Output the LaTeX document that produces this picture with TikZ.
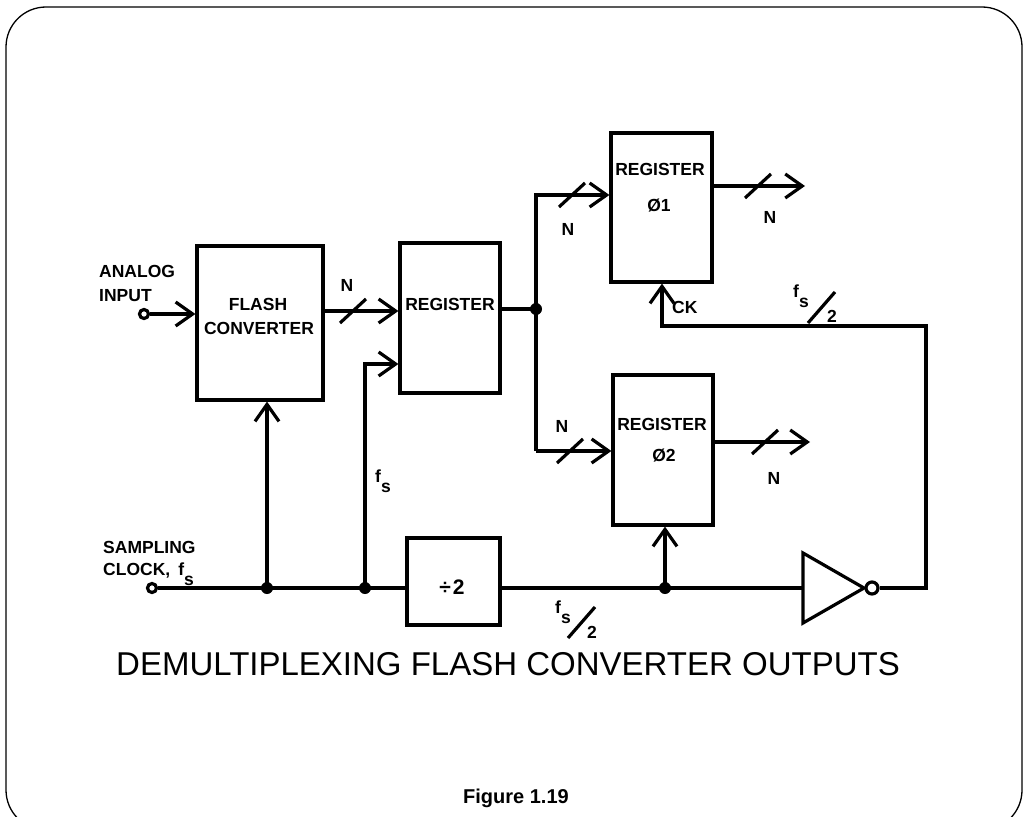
\documentclass[tikz,border=0pt]{standalone}
\usepackage{fontspec}
\setmainfont{Liberation Sans}
\usetikzlibrary{arrows.meta,calc}
\newcommand{\fsub}{f\raisebox{-10pt}{s}}
\begin{document}
\begin{tikzpicture}[x=1pt,y=-1pt,
  wire/.style={line width=3.2pt},
  arr/.style={wire,-{Straight Barb[length=17pt,width=24pt,line width=3.2pt]}},
  box/.style={draw,line width=3.2pt,rectangle,inner sep=0pt},
  lbl/.style={font=\bfseries\fontsize{17.5}{20}\selectfont,inner sep=0pt},
  jdot/.style={circle,fill,inner sep=0pt,minimum size=12pt},
  term/.style={circle,draw,line width=3.2pt,fill=white,inner sep=0pt,minimum size=9pt}]
\useasboundingbox (0,0) rectangle (1027,816);
\clip (0,0) rectangle (1027,816);
\draw[line width=1.3pt,rounded corners=40pt] (6,7) rectangle (1022,830);

% boxes
\node[box,minimum width=126pt,minimum height=154pt] (flash) at (260,323) {};
\node[box,minimum width=100pt,minimum height=150pt] (reg) at (450,318) {};
\node[box,minimum width=101pt,minimum height=149pt] (reg1) at (661.5,207.5) {};
\node[box,minimum width=100pt,minimum height=150pt] (reg2) at (663,450) {};
\node[box,minimum width=93pt,minimum height=87pt] (div) at (453.5,581.5) {};

% box texts
\node[lbl,anchor=base] (flasht1) at (258,310) {FLASH};
\node[lbl,anchor=base] (flasht2) at (259,334) {CONVERTER};
\node[lbl,anchor=base] (regt) at (450,310) {REGISTER};
\node[lbl,anchor=base] (reg1t) at (660,175) {REGISTER};
\node[lbl,anchor=base] (reg1p) at (659,211) {Ø1};
\node[lbl,anchor=base] (reg2t) at (662,430) {REGISTER};
\node[lbl,anchor=base] (reg2p) at (664,461) {Ø2};
\node[lbl,anchor=base,font=\bfseries\fontsize{21}{22}\selectfont] (divt) at (452,594) {÷\kern2pt 2};

% terminals and junctions
\node[term] (ain) at (144,314) {};
\node[term] (sclk) at (152,588) {};
\node[lbl,anchor=base west] (aint1) at (99,277) {ANALOG};
\node[lbl,anchor=base west] (aint2) at (99,301) {INPUT};
\node[lbl,anchor=base west] (sclkt1) at (103,553) {SAMPLING};
\node[lbl,anchor=base west] (sclkt2) at (103,575) {CLOCK,\kern8pt\fsub};

\coordinate (j1c) at (267,588);
\coordinate (j2c) at (365,588);
\coordinate (regclk) at (365,364);
\coordinate (jdc) at (665,588);
\coordinate (jrc) at (536,309);
\coordinate (t1) at (536,195);
\coordinate (t2) at (536,451);
\coordinate (o1) at (805,186);
\coordinate (o2) at (810,442);
\coordinate (nb) at (400,311);
\coordinate (inv) at (803,588);
\coordinate (fb1) at (926,588);
\coordinate (fb2) at (926,326);
\coordinate (ck) at (662,326);

% inverter
\draw[wire,line join=miter] ($(inv)+(0,-35)$) -- ($(inv)+(0,35)$) -- ($(inv)+(61,0)$) -- cycle;
\node[term,minimum size=12pt] (bub) at ($(inv)+(69,0)$) {};

% wires
\draw[arr] (ain) -- (ain -| flash.west);
\draw[arr] (flash.east |- nb) -- (reg.west |- nb);
\draw[wire] (sclk) -- (div.west |- sclk);
\draw[arr] (j1c) -- (j1c |- flash.south);
\draw[arr] (j2c) -- (regclk) -- (reg.west |- regclk);
\draw[wire] (div.east |- jdc) -- (inv);
\draw[arr] (jdc) -- (jdc |- reg2.south);
\draw[wire] (reg.east |- jrc) -- (jrc);
\draw[arr] (t2) -- (t1) -- (t1 -| reg1.west);
\draw[arr] (t2) -- (t2 -| reg2.west);
\draw[arr] (reg1.east |- o1) -- (o1);
\draw[arr] (reg2.east |- o2) -- (o2);
\draw[arr,line join=miter] (bub.east) -- (fb1) -- (fb2) -- (ck) -- (ck |- reg1.south);

\node[jdot] (j1) at (j1c) {};
\node[jdot] (j2) at (j2c) {};
\node[jdot] (jd) at (jdc) {};
\node[jdot] (jr) at (jrc) {};

% bus slashes
\coordinate (s1) at (353,311);
\coordinate (s2) at (572,195);
\coordinate (s3) at (570,451);
\coordinate (s4) at (758,186);
\coordinate (s5) at (765,442);
\foreach \s in {s1,s2,s3,s4,s5}
  \draw[wire] ($(\s)+(-13,12)$) -- ($(\s)+(13,-12)$);

% N labels
\node[lbl,anchor=base] (n1) at (347,291) {N};
\node[lbl,anchor=base] (n2) at (568,235) {N};
\node[lbl,anchor=base] (n3) at (770,223) {N};
\node[lbl,anchor=base] (n4) at (562,432) {N};
\node[lbl,anchor=base] (n5) at (774,484) {N};
\node[lbl,anchor=base west] (ckt) at (672,313) {CK};

% fs labels
\node[lbl,anchor=base west] (fsv) at (375,482) {\fsub};
\node[lbl,anchor=base west] (fst) at (793,297) {\fsub};
\coordinate (fstsl) at (821.5,307.5);
\draw[wire] ($(fstsl)+(-13.5,15.5)$) -- ($(fstsl)+(13.5,-15.5)$);
\node[lbl,anchor=base west] (fst2) at (827,322) {2};
\node[lbl,anchor=base west] (fsb) at (555,613) {\fsub};
\coordinate (fsbsl) at (581.5,622.5);
\draw[wire] ($(fsbsl)+(-13.5,15.5)$) -- ($(fsbsl)+(13.5,-15.5)$);
\node[lbl,anchor=base west] (fsb2) at (587,638) {2};

% titles
\node[anchor=base,inner sep=0pt,font=\fontsize{33}{36}\selectfont] (title) at (508,675) {DEMULTIPLEXING FLASH CONVERTER OUTPUTS};
\node[anchor=base,inner sep=0pt,font=\bfseries\fontsize{20}{22}\selectfont] (fig) at (516,803) {Figure 1.19};
\end{tikzpicture}
\end{document}
